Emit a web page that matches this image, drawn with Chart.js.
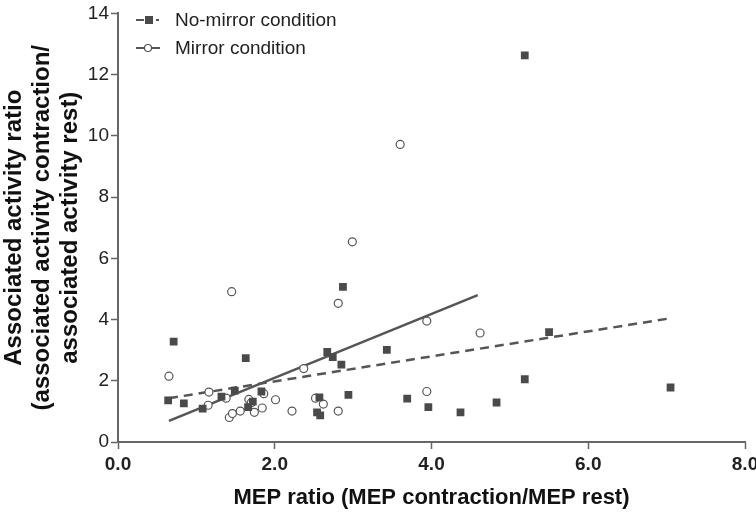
<!DOCTYPE html>
<html>
<head>
<meta charset="utf-8">
<script src="https://cdn.jsdelivr.net/npm/chart.js@4"></script>
<style>
  html, body { margin: 0; padding: 0; background: #fff; }
  #wrap { width: 756px; height: 513px; }
</style>
</head>
<body>
<div id="wrap"><canvas id="chart" width="756" height="513"></canvas></div>
<script>
// No-mirror condition (filled squares)
const noMirrorX = [0.64, 0.71, 0.84, 1.08, 1.32, 1.49, 1.63, 1.66, 1.72, 1.83, 2.54, 2.57, 2.58, 2.67,
  2.74, 2.85, 2.87, 2.94, 3.43, 3.69, 3.96, 4.37, 4.83, 5.19, 5.19, 5.50, 7.05];
const noMirrorY = [1.36, 3.28, 1.26, 1.09, 1.48, 1.68, 2.74, 1.14, 1.32, 1.65, 0.97, 1.46, 0.87, 2.94,
  2.77, 2.53, 5.07, 1.54, 3.01, 1.42, 1.14, 0.97, 1.29, 2.05, 12.63, 3.59, 1.78];

// Mirror condition (open circles)
const mirrorX = [0.65, 1.15, 1.16, 1.38, 1.42, 1.45, 1.46, 1.56, 1.67, 1.70, 1.74, 1.84, 1.86, 2.01,
  2.22, 2.37, 2.52, 2.62, 2.81, 2.81, 2.99, 3.60, 3.94, 3.94, 4.62];
const mirrorY = [2.15, 1.20, 1.63, 1.43, 0.80, 4.91, 0.93, 1.01, 1.39, 1.28, 0.97, 1.11, 1.58, 1.38,
  1.01, 2.40, 1.43, 1.24, 1.01, 4.53, 6.54, 9.72, 3.95, 1.65, 3.56];

// regression lines (end points)
const noMirrorFitX = [0.65, 7.02];
const noMirrorFitY = [1.43, 4.03];
const mirrorFitX = [0.65, 4.59];
const mirrorFitY = [0.69, 4.80];

const xTicks = [0, 2, 4, 6, 8];
const yTicks = [0, 2, 4, 6, 8, 10, 12, 14];

const legendLabels = ['No-mirror condition', 'Mirror condition'];

function pts(xs, ys) {
  return xs.map((x, i) => ({ x: x, y: ys[i] }));
}

const markColor = '#4a4a4a';
const lineColor = '#555555';
const axisColor = '#666666';
const fontFamily = '"Liberation Sans", Arial, sans-serif';
const narrowFamily = '"Liberation Sans Narrow", "Liberation Sans", Arial, sans-serif';

// legend drawn inside the plot, top left
const insideLegend = {
  id: 'insideLegend',
  afterDraw(chart) {
    const ctx = chart.ctx;
    const left = chart.chartArea.left + 18;
    const rows = [20, 48];
    ctx.save();
    ctx.strokeStyle = lineColor;
    ctx.lineWidth = 2;
    // no-mirror: dash, square, dot
    ctx.beginPath();
    ctx.moveTo(left, rows[0]);
    ctx.lineTo(left + 8, rows[0]);
    ctx.moveTo(left + 20, rows[0]);
    ctx.lineTo(left + 23, rows[0]);
    ctx.stroke();
    ctx.fillStyle = markColor;
    ctx.fillRect(left + 9, rows[0] - 4, 8, 8);
    // mirror: solid line, circle
    ctx.beginPath();
    ctx.moveTo(left, rows[1]);
    ctx.lineTo(left + 24, rows[1]);
    ctx.stroke();
    ctx.beginPath();
    ctx.fillStyle = '#fff';
    ctx.lineWidth = 1.2;
    ctx.arc(left + 12, rows[1], 3.5, 0, Math.PI * 2);
    ctx.fill();
    ctx.stroke();

    ctx.fillStyle = '#222';
    ctx.font = '19px ' + fontFamily;
    ctx.textBaseline = 'middle';
    ctx.fillText(legendLabels[0], left + 39, rows[0] + 1);
    ctx.fillText(legendLabels[1], left + 39, rows[1] + 1);
    ctx.restore();
  }
};

new Chart(document.getElementById('chart').getContext('2d'), {
  type: 'scatter',
  data: {
    datasets: [
      {
        label: legendLabels[0],
        data: pts(noMirrorX, noMirrorY),
        pointStyle: 'rect',
        pointRadius: 5.5,
        backgroundColor: markColor,
        borderColor: markColor,
        borderWidth: 0
      },
      {
        label: legendLabels[1],
        data: pts(mirrorX, mirrorY),
        pointStyle: 'circle',
        pointRadius: 4,
        backgroundColor: '#ffffff',
        borderColor: '#555555',
        borderWidth: 1.2
      },
      {
        type: 'line',
        label: 'No-mirror fit',
        data: pts(noMirrorFitX, noMirrorFitY),
        borderColor: lineColor,
        borderWidth: 2.5,
        borderDash: [9, 6],
        pointRadius: 0,
        fill: false
      },
      {
        type: 'line',
        label: 'Mirror fit',
        data: pts(mirrorFitX, mirrorFitY),
        borderColor: lineColor,
        borderWidth: 2.5,
        pointRadius: 0,
        fill: false
      }
    ]
  },
  options: {
    responsive: false,
    animation: false,
    layout: { padding: { top: 7, right: 11, left: 0, bottom: 2 } },
    plugins: {
      legend: { display: false },
      tooltip: { enabled: false }
    },
    scales: {
      x: {
        type: 'linear',
        min: 0,
        max: 8,
        afterBuildTicks: (axis) => { axis.ticks = xTicks.map(v => ({ value: v })); },
        afterFit: (axis) => { axis.height = 69; axis.paddingRight = 0; axis.paddingLeft = 0; },
        grid: { drawOnChartArea: false, color: axisColor, tickLength: 7, tickWidth: 1.5 },
        border: { color: axisColor, width: 2 },
        ticks: {
          color: '#222',
          padding: 4,
          font: { family: narrowFamily, size: 19, weight: 'bold' },
          callback: (v) => v.toFixed(1)
        },
        title: {
          display: true,
          text: 'MEP ratio (MEP contraction/MEP rest)',
          color: '#111',
          padding: { top: 8, bottom: 0 },
          font: { family: fontFamily, size: 22, weight: 'bold' }
        }
      },
      y: {
        type: 'linear',
        min: 0,
        max: 14,
        afterBuildTicks: (axis) => { axis.ticks = yTicks.map(v => ({ value: v })); },
        afterFit: (axis) => { axis.width = 118; },
        grid: { drawOnChartArea: false, color: axisColor, tickLength: 7, tickWidth: 1.5 },
        border: { color: axisColor, width: 2 },
        ticks: {
          color: '#222',
          padding: 2,
          font: { family: fontFamily, size: 19 }
        },
        title: {
          display: true,
          text: ['Associated activity ratio', '(associated activity contraction/', 'associated activity rest)'],
          color: '#111',
          padding: { top: 0, bottom: 2 },
          font: { family: fontFamily, size: 24, weight: 'bold', lineHeight: 1.18 }
        }
      }
    }
  },
  plugins: [insideLegend]
});
</script>
</body>
</html>
